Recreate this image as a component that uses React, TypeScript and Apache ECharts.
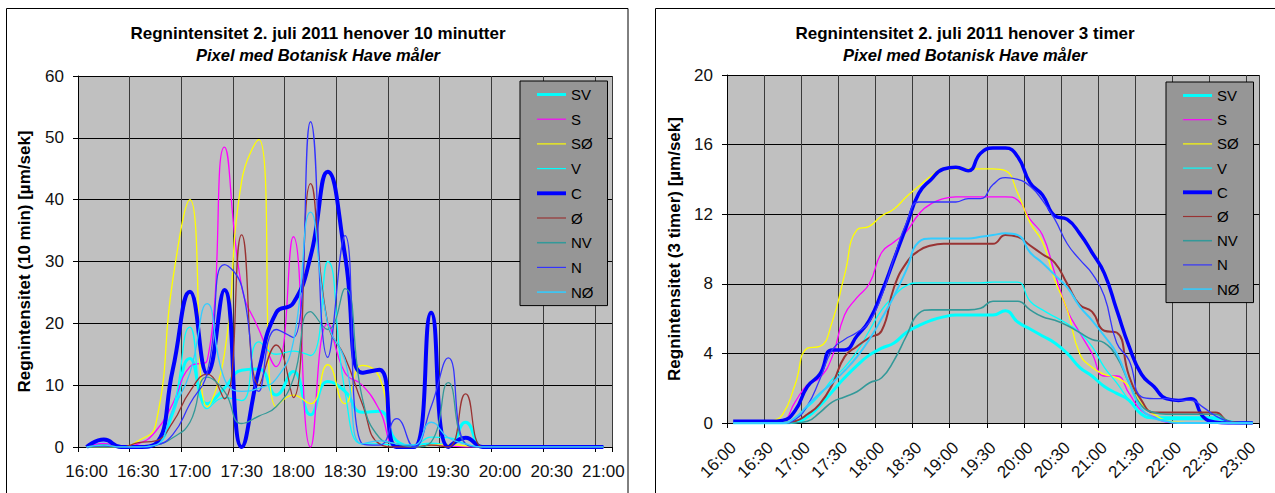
import React, { useEffect, useRef } from 'react';
import * as echarts from 'echarts';

const FONT = 'Arial, "Liberation Sans", Helvetica, sans-serif';

const TITLE_10 = 'Regnintensitet 2. juli 2011 henover 10 minutter';
const TITLE_3H = 'Regnintensitet 2. juli 2011 henover 3 timer';
const SUBTITLE = 'Pixel med Botanisk Have måler';
const YNAME_10 = 'Regnintensitet (10 min) [µm/sek]';
const YNAME_3H = 'Regnintensitet (3 timer) [µm/sek]';

const SERIES_NAMES = ['SV', 'S', 'SØ', 'V', 'C', 'Ø', 'NV', 'N', 'NØ'];
const COLORS = ['#00FFFF', '#FF00FF', '#FFFF00', '#00FFFF', '#0000FF', '#993333', '#339999', '#3333FF', '#33CCFF'];
const WIDTH_10MIN = [3, 1.3, 1.3, 1.3, 4, 1.3, 1.3, 1.3, 1.3];
const WIDTH_3H = [3, 1.3, 1.3, 1.3, 3.5, 2, 1.6, 1.3, 2];
const LEGEND_THICK = [3, 1.2, 1.2, 1.2, 4, 1.2, 1.6, 1.2, 1.6];

const TIMES_10MIN = [
  '16:00', '16:10', '16:20', '16:30', '16:40', '16:50', '17:00', '17:10', '17:20', '17:30', '17:40',
  '17:50', '18:00', '18:10', '18:20', '18:30', '18:40', '18:50', '19:00', '19:10', '19:20',
  '19:30', '19:40', '19:50', '20:00', '20:10', '20:20', '20:30', '20:40', '20:50', '21:00',
];
const TIMES_3H = [
  '16:00', '16:10', '16:20', '16:30', '16:40', '16:50', '17:00', '17:10', '17:20', '17:30', '17:40',
  '17:50', '18:00', '18:10', '18:20', '18:30', '18:40', '18:50', '19:00', '19:10', '19:20',
  '19:30', '19:40', '19:50', '20:00', '20:10', '20:20', '20:30', '20:40', '20:50', '21:00',
  '21:10', '21:20', '21:30', '21:40', '21:50', '22:00', '22:10', '22:20', '22:30', '22:40',
  '22:50', '23:00',
];
const TICKS_10MIN = [0, 10, 20, 30, 40, 50, 60];
const TICKS_3H = [0, 4, 8, 12, 16, 20];

// 10-minute intensity (left chart), 16:00 .. 21:00
const SV_10 = [0, 0.5, 0, 0, 0.5, 5.5, 14.3, 7, 9.5, 12.4, 12.6, 8.4, 12.2, 5.2, 10.6, 9, 5.6, 5.8, 1, 0.2, 0.5, 0.2, 4, 0, 0, 0, 0, 0, 0, 0, 0];
const S_10 = [0, 0.6, 0, 0.5, 2.5, 7, 13, 14, 48.5, 26, 19, 13, 34, 0, 20, 12, 10, 6, 0, 0, 0.3, 0.2, 0, 0, 0, 0, 0, 0, 0, 0, 0];
const SOE_10 = [0, 0, 0, 1, 3.5, 27, 40, 6.5, 15, 43, 49.7, 6.5, 8.4, 7, 13.3, 7, 13.2, 11.3, 0.3, 0, 0.3, 0.4, 0.2, 0, 0, 0, 0, 0, 0, 0, 0];
const V_10 = [0, 0.3, 0, 0, 0.3, 6, 19.4, 6.2, 8, 7.5, 17, 15, 15.5, 14.8, 30, 9, 0.5, 0.5, 0.3, 0.3, 1.6, 1.5, 0.5, 0, 0, 0, 0, 0, 0, 0, 0];
const C_10 = [0, 1.2, 0, 0, 0.5, 12.5, 25.1, 11.9, 25.4, 0, 12.4, 21.7, 23.3, 30.8, 44.5, 31, 12, 12.5, 0, 0, 21.7, 0, 1.5, 0, 0, 0, 0, 0, 0, 0, 0];
const OE_10 = [0, 0.3, 0, 0.7, 1, 4, 9, 11.8, 7.8, 34.3, 10, 16.5, 8, 42.6, 20, 14.5, 7, 0.5, 0, 0, 0.3, 0, 8.6, 0, 0, 0, 0, 0, 0, 0, 0];
const NV_10 = [0, 0, 0, 0, 0.3, 1.5, 4, 11.3, 9, 3.8, 5, 6.5, 11, 21.9, 19, 25.6, 8, 1.5, 0.5, 0, 0.8, 10.4, 0.5, 0, 0, 0, 0, 0, 0, 0, 0];
const N_10 = [0, 0.2, 0, 0, 0.3, 2, 7, 12, 29.5, 26, 9, 19, 17.7, 52.6, 14.5, 34.2, 0.5, 0.3, 4.6, 0, 6.5, 14.4, 0.5, 0, 0, 0, 0, 0, 0, 0, 0];
const NOE_10 = [0, 0.3, 0, 0, 0.3, 6, 12, 23.2, 11, 9, 9.5, 11, 17, 38, 20, 14, 0.5, 1, 0.5, 0.3, 4, 1.5, 0.5, 0, 0, 0, 0, 0, 0, 0, 0];

// 3-hour intensity (right chart), 16:00 .. 23:00
const SV_3H = [0, 0, 0, 0, 0, 0.05, 0.35, 1, 1.8, 2.6, 3.3, 3.9, 4.3, 4.6, 5.2, 5.6, 5.9, 6.1, 6.2, 6.2, 6.2, 6.2, 6.45, 5.8, 5.4, 5, 4.6, 4, 3.2, 2.7, 2.1, 1.7, 1.3, 0.5, 0.3, 0.3, 0.3, 0.3, 0.3, 0.3, 0.1, 0, 0];
const S_3H = [0, 0, 0, 0, 0.1, 1.2, 2.2, 2.6, 3.8, 6.2, 7.2, 8, 9.8, 10.4, 11, 12, 12.6, 12.9, 13, 13, 13, 13, 13, 12.8, 11.7, 10.8, 8.6, 6.5, 5.2, 4, 2.7, 2.7, 1.7, 0.7, 0.35, 0.05, 0, 0, 0, 0, 0, 0, 0];
const SOE_3H = [0, 0, 0, 0.1, 0.5, 2.2, 4.3, 4.4, 5.8, 8.5, 11.1, 11.3, 11.9, 12.3, 13, 13.6, 14.2, 14.6, 14.6, 14.6, 14.6, 14.6, 14.5, 13.2, 11.5, 10.4, 8.2, 6.5, 4, 3.2, 2.8, 2.6, 2.1, 1.1, 0.5, 0.15, 0.05, 0, 0, 0, 0, 0, 0];
const V_3H = [0, 0, 0, 0, 0, 0.2, 0.9, 1.6, 2.5, 3.2, 4.1, 5.3, 6.5, 7.3, 7.9, 8.05, 8.05, 8.05, 8.05, 8.05, 8.05, 8.1, 8.1, 8.1, 7, 6.5, 6.1, 5.7, 5.2, 4.4, 3.2, 2.3, 1.3, 0.5, 0.25, 0.2, 0.2, 0.2, 0.2, 0.2, 0.1, 0, 0];
const C_3H = [0.1, 0.1, 0.1, 0.1, 0.15, 0.7, 2.1, 2.8, 4.2, 4.2, 5, 5.9, 7.5, 9.4, 11.3, 13.2, 14, 14.6, 14.7, 14.5, 15.5, 15.8, 15.8, 15.3, 13.8, 13.1, 11.9, 11.7, 10.9, 9.8, 8.6, 6.5, 4.4, 2.8, 2.1, 1.4, 1.3, 1.4, 0.35, 0.05, 0, 0, 0];
const OE_3H = [0, 0, 0, 0, 0, 0.1, 0.5, 1.1, 2.2, 3.8, 4.4, 4.9, 5.3, 7.8, 9.2, 9.9, 10.2, 10.3, 10.3, 10.3, 10.3, 10.3, 10.8, 10.7, 10.2, 9.7, 9.2, 8, 6.8, 6.4, 5.3, 5.2, 2.7, 1.3, 0.6, 0.6, 0.6, 0.6, 0.6, 0.6, 0.1, 0, 0];
const NV_3H = [0, 0, 0, 0, 0, 0, 0.1, 0.6, 1.2, 1.5, 1.8, 2.3, 2.6, 3.6, 5, 6.3, 6.5, 6.5, 6.5, 6.5, 6.6, 7, 7, 7, 6.5, 6.1, 5.9, 5.6, 5.2, 4.8, 4.6, 3.8, 2.3, 1, 0.6, 0.5, 0.5, 0.5, 0.5, 0.5, 0.1, 0, 0];
const N_3H = [0, 0, 0, 0, 0, 0.2, 1, 2.5, 4.2, 4.8, 5.2, 5.8, 7.3, 9.5, 11.5, 12.7, 12.7, 12.7, 12.7, 12.9, 12.9, 13.7, 14.1, 14, 13.6, 12.8, 11.7, 10.3, 9.4, 8.6, 7.3, 4.6, 3.6, 1.5, 1.4, 1.4, 1.3, 1.3, 0.9, 0.4, 0.1, 0, 0];
const NOE_3H = [0, 0, 0, 0, 0, 0.3, 1, 1.7, 2.3, 3, 3.8, 4.8, 6, 7.3, 8.8, 10.4, 10.6, 10.6, 10.6, 10.6, 10.7, 10.8, 10.9, 10.8, 9.8, 9.2, 8.5, 7.8, 6.7, 5.9, 5, 4, 2.3, 0.8, 0.3, 0.1, 0, 0, 0, 0, 0, 0, 0];

const DATA_10 = [SV_10, S_10, SOE_10, V_10, C_10, OE_10, NV_10, N_10, NOE_10];
const DATA_3H = [SV_3H, S_3H, SOE_3H, V_3H, C_3H, OE_3H, NV_3H, N_3H, NOE_3H];

function xAxisFor(gridIndex: number, data: string[], rotate: number, margin: number) {
  return {
    gridIndex,
    type: 'category',
    data,
    boundaryGap: true,
    axisLine: { show: true, lineStyle: { color: '#000', width: 1 } },
    axisTick: { show: true, interval: 2, length: 5, lineStyle: { color: '#000' } },
    axisLabel: { interval: 2, rotate, margin, fontSize: 17, color: '#111', fontFamily: FONT },
    splitLine: { show: true, interval: 2, lineStyle: { color: '#3a3a3a', width: 1 } },
  };
}

function yAxisFor(gridIndex: number, ticks: number[], name: string, nameGap: number) {
  return {
    gridIndex,
    type: 'value',
    min: ticks[0],
    max: ticks[ticks.length - 1],
    interval: ticks[1] - ticks[0],
    name,
    nameLocation: 'middle',
    nameGap,
    nameTextStyle: { fontSize: 17, fontWeight: 'bold', color: '#000', fontFamily: FONT },
    axisLine: { show: true, lineStyle: { color: '#000', width: 1 } },
    axisTick: { show: true, length: 5, lineStyle: { color: '#000' } },
    axisLabel: { fontSize: 17, color: '#111', margin: 14, fontFamily: FONT },
    splitLine: { show: true, lineStyle: { color: '#000', width: 1 } },
  };
}

function legendFor(left: number, top: number, gap: number) {
  return {
    orient: 'vertical',
    left,
    top,
    data: SERIES_NAMES.map((name, k) => ({ name, icon: `path://M0,0H30V${LEGEND_THICK[k]}H0Z` })),
    backgroundColor: '#969696',
    borderColor: '#000',
    borderWidth: 1,
    borderRadius: 0,
    padding: [6, 14, 6, 17],
    itemWidth: 29,
    itemHeight: 15,
    itemGap: gap,
    selectedMode: false,
    textStyle: { fontSize: 15, color: '#000', fontFamily: FONT },
  };
}

function seriesFor(axisIndex: number, dataSets: number[][], widths: number[]) {
  return SERIES_NAMES.map((name, k) => ({
    name,
    type: 'line',
    xAxisIndex: axisIndex,
    yAxisIndex: axisIndex,
    data: dataSets[k],
    smooth: 0.5,
    symbol: 'none',
    lineStyle: { color: COLORS[k], width: widths[k] },
    itemStyle: { color: COLORS[k] },
    emphasis: { disabled: true },
  }));
}

function textEl(text: string, x: number, y: number, size: number, italic: boolean) {
  return {
    type: 'text',
    x,
    y,
    silent: true,
    style: {
      text,
      fontSize: size,
      fontWeight: 'bold',
      fontStyle: italic ? 'italic' : 'normal',
      fontFamily: FONT,
      fill: '#000',
      align: 'center',
      verticalAlign: 'middle',
      textAlign: 'center',
      textVerticalAlign: 'middle',
    },
  };
}

export default function App() {
  const ref = useRef<HTMLDivElement>(null);

  useEffect(() => {
    if (!ref.current) return;
    const chart = echarts.init(ref.current, undefined, { renderer: 'svg' });
    chart.setOption({
      animation: false,
      backgroundColor: '#ffffff',
      textStyle: { fontFamily: FONT },
      grid: [
        { left: 78, top: 76, width: 534, height: 371, show: true, backgroundColor: '#C0C0C0', borderWidth: 0 },
        { left: 727, top: 75, width: 532, height: 348, show: true, backgroundColor: '#C0C0C0', borderWidth: 0 },
      ],
      xAxis: [xAxisFor(0, TIMES_10MIN, 0, 16), xAxisFor(1, TIMES_3H, 45, 22)],
      yAxis: [yAxisFor(0, TICKS_10MIN, YNAME_10, 45), yAxisFor(1, TICKS_3H, YNAME_3H, 44)],
      legend: [legendFor(520, 81, 9.7), legendFor(1166, 82, 9.2)],
      series: [...seriesFor(0, DATA_10, WIDTH_10MIN), ...seriesFor(1, DATA_3H, WIDTH_3H)],
      graphic: [
        { type: 'rect', silent: true, z: 100, shape: { x: 6.5, y: 8.5, width: 621.5, height: 600 }, style: { fill: 'none', stroke: '#000', lineWidth: 1 } },
        { type: 'rect', silent: true, z: 100, shape: { x: 655.5, y: 8.5, width: 700, height: 600 }, style: { fill: 'none', stroke: '#000', lineWidth: 1 } },
        textEl(TITLE_10, 318, 33, 17, false),
        textEl(SUBTITLE, 318, 55, 16.5, true),
        textEl(TITLE_3H, 965, 33, 17, false),
        textEl(SUBTITLE, 965, 55, 16.5, true),
      ],
    });
    return () => chart.dispose();
  }, []);

  return <div ref={ref} style={{ position: 'absolute', left: 0, top: 0, width: 1275, height: 493 }} />;
}
